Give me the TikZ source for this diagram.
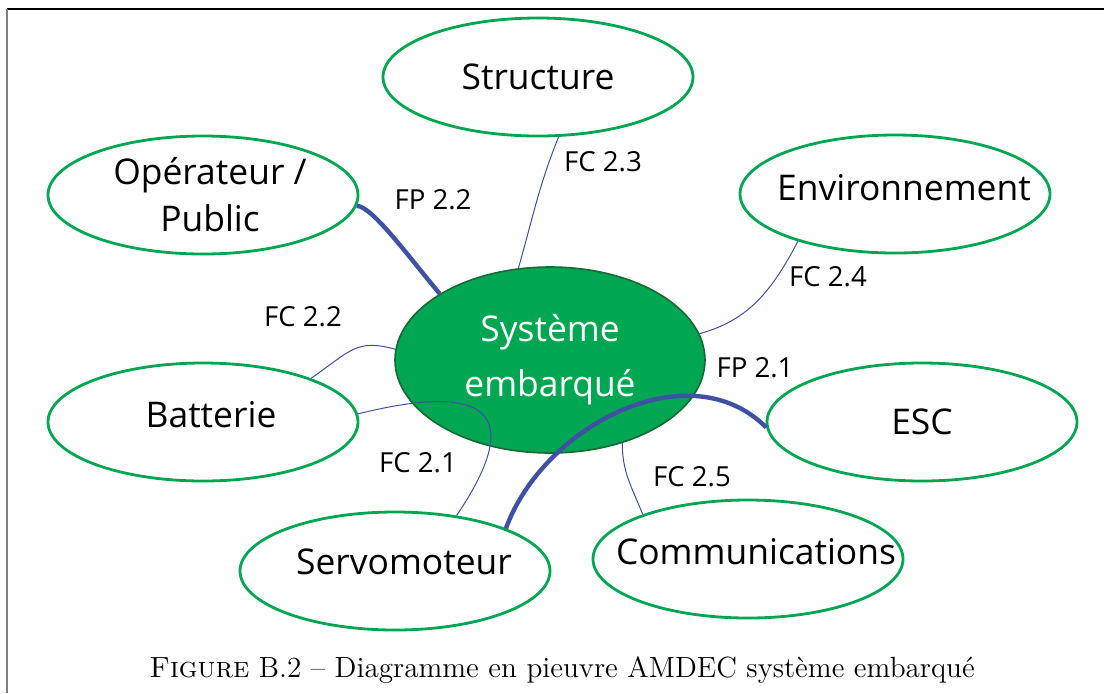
\documentclass[tikz,border=0pt]{standalone}
\usepackage{fontspec}
\newfontfamily\pieuvrefont{Open Sans}
\usepackage{tikz}
\definecolor{partgreen}{RGB}{0,166,81}
\definecolor{sysborder}{RGB}{25,105,55}
\definecolor{linkblue}{RGB}{63,81,165}
\usetikzlibrary{shapes.geometric}

\begin{document}
\begin{tikzpicture}[x=0.5pt, y=-0.5pt,
				part/.style={draw=partgreen, line width=1.4pt, ellipse, minimum width=155pt, minimum height=59pt, inner sep=0pt},
				parttext/.style={font=\pieuvrefont\fontsize{17.7}{23.5}\selectfont, align=center},
				sysnode/.style={draw=sysborder, fill=partgreen, line width=0.8pt, ellipse, minimum width=155pt, minimum height=93pt, inner sep=0pt,
					text=white, align=center, font=\pieuvrefont\fontsize{17.7}{27.5}\selectfont},
				fc/.style={linkblue, line width=0.5pt},
				fp/.style={linkblue, line width=2.2pt},
				lab/.style={font=\pieuvrefont\fontsize{13.8}{16}\selectfont}]
				\useasboundingbox (0,0) rectangle (1104,693);
				% Rahmen
				\draw[black, line width=0.7pt] (7,9) -- (1104,9);
				\draw[gray, line width=1pt] (7,9) -- (7,693);
				% Elemente
				\node[part, label={[parttext]center:Structure}] (struct) at (538,77) {};
				\node[part, label={[parttext, xshift=3.5pt]center:{Opérateur /\\Public}}] (oper) at (203,195) {};
				\node[part, label={[parttext, xshift=4.5pt, yshift=3pt]center:Environnement}] (env) at (895,194) {};
				\node[part, label={[parttext, xshift=4pt, yshift=3.5pt]center:Batterie}] (batt) at (203,422) {};
				\node[part, label={[parttext]center:ESC}] (esc) at (922,422) {};
				\node[part, label={[parttext, xshift=4.5pt, yshift=4.5pt]center:Servomoteur}] (servo) at (395,571) {};
				\node[part, label={[parttext, xshift=4pt, yshift=3.5pt]center:Communications}] (comm) at (748,559) {};
				% System
				\node[sysnode] (sys) at (550,360) {Système\\embarqué};
				% Fonctions contraintes
				\draw[fc] (struct.-71) to[out=-112, in=74] (sys.109);
				\draw[fc] (env.206) to[out=-118, in=15] (sys.10);
				\draw[fc] (sys.-49) to[out=-90, in=112] (comm.157);
				\draw[fc] (batt.22) to[out=35, in=165, out distance=25pt, in distance=20pt] (sys.176);
				\draw[fc] (batt.3) to[out=14, in=56, out distance=75pt, in distance=55pt] (servo.42);
				% Fonctions principales
				\draw[fp] (oper.-4) to[out=-5, in=130, out distance=8pt, in distance=25pt] (sys.149);
				\draw[fp] (servo.21) to[out=70, in=135] (esc.182);
				% Beschriftung
				\node[lab] (fp22) at (433,200) {FP 2.2};
				\node[lab] (fc23) at (603,162) {FC 2.3};
				\node[lab] (fc24) at (828,277) {FC 2.4};
				\node[lab] (fc22) at (303,317) {FC 2.2};
				\node[lab] (fp21) at (755,368) {FP 2.1};
				\node[lab] (fc21) at (418,463) {FC 2.1};
				\node[lab] (fc25) at (692,477) {FC 2.5};
				\node[font=\fontsize{14.6}{17}\selectfont] (caption) at (562,670) {\textsc{Figure} B.2 – Diagramme en pieuvre AMDEC système embarqué};
			\end{tikzpicture}
\end{document}
